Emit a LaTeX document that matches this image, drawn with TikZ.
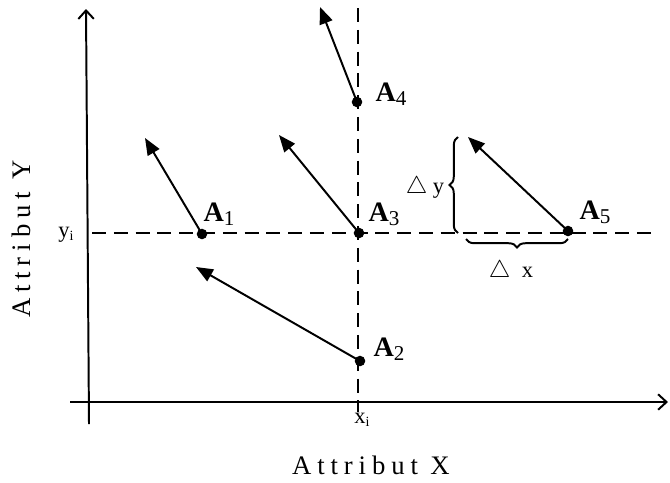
\documentclass[tikz,border=0pt]{standalone}
\usepackage{fontspec}
\setmainfont{Liberation Serif}
\usetikzlibrary{arrows.meta,decorations.pathreplacing}

\begin{document}
\begin{tikzpicture}[x=0.025cm, y=-0.025cm,
  axis/.style={line width=1.4pt, -{Straight Barb[length=6pt, width=11pt]}},
  guide/.style={line width=1.3pt, dash pattern=on 10pt off 5.5pt},
  move/.style={line width=1.4pt, -{Triangle[length=12pt, width=9.5pt]}},
  pt/.style={circle, fill, inner sep=0pt, minimum size=7.5pt},
  ptlbl/.style={font=\fontsize{20}{20}\selectfont\bfseries, inner sep=1pt},
  sublbl/.style={font=\fontsize{16}{16}\selectfont, inner sep=1pt},
  axlbl/.style={font=\fontsize{19}{19}\selectfont\addfontfeature{LetterSpace=22}, inner sep=0pt},
  brc/.style={decorate, decoration={brace, amplitude=6pt}, line width=1.4pt}]
  \useasboundingbox (0,0) rectangle (670,482);

  % Axes
  \coordinate (ybot) at (89,424);
  \coordinate (ytop) at (86,9);
  \coordinate (xbeg) at (70,402);
  \coordinate (xend) at (668,402);
  \draw[axis] (ybot) -- (ytop);
  \draw[axis] (xbeg) -- (xend);

  % Guide lines through A3
  \coordinate (yl) at (92,233);
  \coordinate (yr) at (655,233);
  \coordinate (xt) at (358,8);
  \coordinate (xb) at (358,412);
  \draw[guide] (yl) -- (yr);
  \draw[guide] (xt) -- (xb);

  % Points
  \node[pt] (a1) at (202,234) {};
  \node[pt] (a2) at (360,361) {};
  \node[pt] (a3) at (359,233) {};
  \node[pt] (a4) at (357,102) {};
  \node[pt] (a5) at (568,231) {};

  % Arrow tips
  \coordinate (t1) at (145,138);
  \coordinate (t2) at (196,267);
  \coordinate (t3) at (279,135);
  \coordinate (t4) at (320,7);
  \coordinate (t5) at (468,137);

  \draw[move] (a1.center) -- (t1);
  \draw[move] (a2.center) -- (t2);
  \draw[move] (a3.center) -- (t3);
  \draw[move] (a4.center) -- (t4);
  \draw[move] (a5.center) -- (t5);

  % Point labels
  \node[ptlbl] (la1) at (219,214) {A\textmd{\raisebox{-3pt}{\fontsize{15}{15}\selectfont 1}}};
  \node[ptlbl] (la2) at (389,349) {A\textmd{\raisebox{-3pt}{\fontsize{15}{15}\selectfont 2}}};
  \node[ptlbl] (la3) at (384,214) {A\textmd{\raisebox{-3pt}{\fontsize{15}{15}\selectfont 3}}};
  \node[ptlbl] (la4) at (391,94) {A\textmd{\raisebox{-3pt}{\fontsize{15}{15}\selectfont 4}}};
  \node[ptlbl] (la5) at (595,212) {A\textmd{\raisebox{-3pt}{\fontsize{15}{15}\selectfont 5}}};

  % Deltas
  \coordinate (dyb) at (458,233);
  \coordinate (dyt) at (458,137);
  \coordinate (dxr) at (568,239);
  \coordinate (dxl) at (466,239);
  \draw[brc] (dyb) -- (dyt);
  \draw[brc] (dxr) -- (dxl);
  \node[sublbl] (ldy) at (425,187) {$\triangle$ y};
  \node[sublbl] (ldx) at (511,271) {$\triangle$ \ x};

  % Axis marks and titles
  \node[sublbl] (lyi) at (66,235) {y\raisebox{-2pt}{\fontsize{10}{10}\selectfont i}};
  \node[sublbl] (lxi) at (362,420) {x\raisebox{-2pt}{\fontsize{10}{10}\selectfont i}};
  \node[axlbl] (lx) at (371,465) {Attribut X};
  \node[axlbl, rotate=90] (ly) at (21,239) {Attribut Y};
\end{tikzpicture}
\end{document}
